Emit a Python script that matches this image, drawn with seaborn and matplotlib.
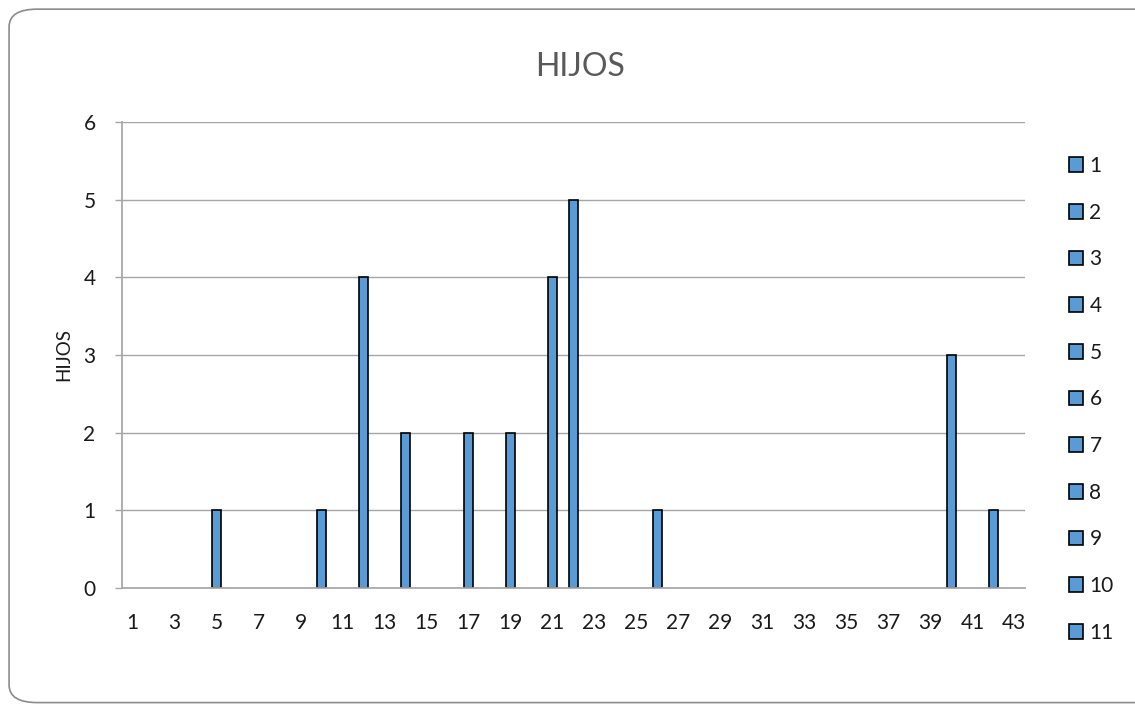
import matplotlib
matplotlib.use("Agg")
import matplotlib.pyplot as plt
from matplotlib.patches import FancyBboxPatch, Patch
import pandas as pd
import seaborn as sns

# categories 1..43, only some have a value
categories = [str(i) for i in range(1, 44)]
bar_cats = ["5", "10", "12", "14", "17", "19", "21", "22", "26", "40", "42"]
bar_vals = [1, 1, 4, 2, 2, 2, 4, 5, 1, 3, 1]
legend_labels = [str(i) for i in range(1, 12)]

BAR_COLOR = "#5B9BD5"
GRID = "#A6A6A6"
TEXT = "#1A1A1A"
FS = 15


def main():
    sns.set_theme(style="white")
    plt.rcParams["font.family"] = ["Lato", "DejaVu Sans"]

    df = pd.DataFrame({"cat": bar_cats, "val": bar_vals})

    fig = plt.figure(figsize=(11.35, 7.04), dpi=100)
    ax = fig.add_axes([0.1075, 0.1648, 0.7955, 0.662])

    sns.barplot(data=df, x="cat", y="val", order=categories, color=BAR_COLOR,
                width=0.4, edgecolor="black", linewidth=1.2, saturation=1, ax=ax)

    ax.set_ylim(0, 6)
    ax.set_xlim(-0.5, len(categories) - 0.5)
    ax.set_yticks(range(0, 7))
    ax.yaxis.grid(True, color=GRID, linewidth=1)
    ax.set_axisbelow(True)
    ax.set_xticks(range(0, len(categories), 2))
    ax.set_xticklabels(categories[::2])
    ax.tick_params(axis="x", length=0, pad=18, labelsize=FS, colors=TEXT)
    ax.tick_params(axis="y", length=5, width=1, color=GRID, pad=14,
                   labelsize=FS, colors=TEXT, left=True)
    for side in ["top", "right"]:
        ax.spines[side].set_visible(False)
    ax.spines["left"].set_color(GRID)
    ax.spines["bottom"].set_color(GRID)
    ax.set_xlabel("")
    ax.set_ylabel("HIJOS", fontsize=FS - 1.5, color=TEXT, labelpad=8)

    fig.text(0.511, 0.905, "HIJOS", ha="center", va="center",
             fontsize=23, color="#595959")

    handles = [Patch(facecolor=BAR_COLOR, edgecolor="black", linewidth=1.2)
               for _ in legend_labels]
    fig.legend(handles, legend_labels, loc="upper left",
               bbox_to_anchor=(0.925, 0.805), frameon=False, fontsize=FS,
               labelspacing=1.28, handlelength=0.7, handleheight=0.7,
               handletextpad=0.3, labelcolor=TEXT)

    border = FancyBboxPatch((0.008, 0.002), 1.2, 0.985,
                            boxstyle="round,pad=0,rounding_size=0.025",
                            transform=fig.transFigure, fill=False,
                            edgecolor="#8C8C8C", linewidth=1.2)
    fig.patches.append(border)

    fig.savefig("out.png", dpi=100)


if __name__ == "__main__":
    main()
